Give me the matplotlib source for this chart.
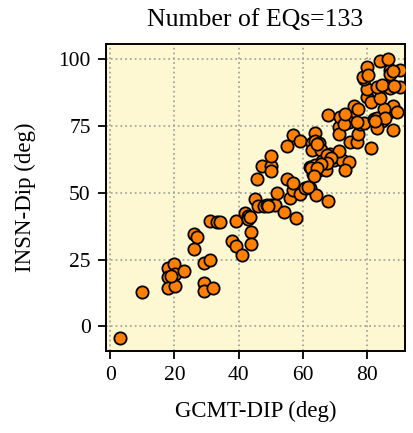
import matplotlib
matplotlib.use("Agg")
import matplotlib.pyplot as plt

# GCMT dip vs INSN dip
gcmt_dip = [
    3.0, 10.0, 18.1, 20.0, 18.1, 20.2, 23.0, 18.1, 20.2, 26.0,
    26.2, 27.2, 29.1, 31.2, 29.1, 29.1, 32.1, 31.1, 33.2, 34.3,
    39.2, 38.1, 39.2, 41.0, 42.0, 43.0, 43.0, 43.9, 43.9, 45.0,
    46.1, 45.8, 47.2, 47.8, 48.8, 50.2, 51.4, 54.0, 58.0, 51.9,
    56.1, 57.1, 59.2, 60.8, 62.1, 64.1, 68.0, 55.1, 57.1, 50.2,
    50.2, 50.2, 55.0, 57.1, 59.2, 63.9, 62.8, 63.9, 64.9, 62.8,
    65.7, 68.5, 65.9, 62.1, 63.9, 64.9, 67.2, 63.1, 69.7, 72.3,
    74.3, 73.3, 71.2, 68.0, 71.2, 71.2, 74.8, 76.9, 81.1, 77.1,
    71.7, 74.6, 77.8, 79.2, 76.1, 77.1, 82.1, 83.2, 84.7, 83.2,
    88.1, 86.8, 88.1, 89.4, 85.2, 80.0, 81.3, 84.2, 80.0, 83.1,
    86.3, 87.3, 90.2, 79.2, 78.8, 80.0, 87.3, 90.2, 87.3, 83.9,
    86.5, 67.6, 68.9, 67.4, 65.8, 62.7, 64.3, 63.5, 61.6, 74.4,
    76.9, 84.8, 72.8, 80.4, 88.4, 85.5, 82.5, 73.0, 64.5, 49.3,
    43.5, 19.0, 88.0,
]
insn_dip = [
    -4.3, 13.0, 21.9, 23.2, 18.4, 19.5, 20.6, 14.3, 15.0, 28.8,
    34.6, 33.4, 23.8, 24.8, 16.3, 13.3, 14.5, 39.4, 39.1, 39.1,
    39.4, 31.8, 30.1, 26.7, 42.6, 41.5, 40.2, 35.4, 30.7, 47.6,
    44.9, 55.3, 59.9, 44.9, 45.3, 45.3, 45.3, 42.8, 40.7, 49.9,
    48.0, 51.2, 49.7, 51.9, 51.9, 49.3, 46.8, 55.1, 53.8, 59.9,
    58.2, 63.7, 67.5, 71.8, 69.3, 72.3, 68.6, 69.6, 68.8, 65.9,
    66.2, 64.7, 61.9, 59.7, 60.3, 58.4, 58.7, 56.9, 62.4, 62.2,
    61.6, 58.4, 65.7, 79.2, 74.6, 72.1, 69.0, 69.0, 66.7, 72.1,
    78.6, 79.0, 75.9, 76.2, 82.7, 81.5, 77.7, 78.1, 77.1, 74.3,
    73.7, 80.2, 82.7, 80.2, 81.5, 85.8, 84.0, 85.5, 89.0, 89.6,
    90.2, 89.2, 89.8, 92.7, 93.5, 97.1, 96.2, 96.2, 94.4, 99.3,
    100.2, 64.2, 62.9, 61.1, 60.7, 59.3, 59.2, 56.4, 52.3, 76.4,
    76.6, 90.5, 75.8, 94.0, 90.0, 78.0, 77.0, 79.4, 68.2, 45.0,
    40.8, 18.8, 95.5,
]

x_ticks = [0, 20, 40, 60, 80]
y_ticks = [0, 25, 50, 75, 100]

plt.rcParams["font.family"] = ["Liberation Serif", "DejaVu Serif"]

fig = plt.figure(figsize=(4.14, 4.33), dpi=100)
ax = fig.add_axes([0.256, 0.189, 0.722, 0.709])
ax.set_facecolor("#fdf8d2")

ax.scatter(gcmt_dip, insn_dip, s=78, color="#ff8000", edgecolor="black",
           linewidth=1.3, zorder=3)

ax.set_xlim(-1.3, 91.8)
ax.set_ylim(-9.3, 105.7)
ax.set_xticks(x_ticks)
ax.set_yticks(y_ticks)
ax.grid(True, linestyle=":", color="#a8a8a0", linewidth=1.3, zorder=0)
ax.tick_params(direction="out", length=6, width=1.3, labelsize=15.5, pad=5)
for spine in ax.spines.values():
    spine.set_linewidth(1.4)

ax.set_xlabel("GCMT-DIP (deg)", fontsize=16.5, labelpad=11)
ax.set_ylabel("INSN-Dip (deg)", fontsize=16.5, labelpad=16)
ax.set_title("Number of EQs=133", fontsize=18.5, pad=13)

fig.savefig("out.png", dpi=100)
